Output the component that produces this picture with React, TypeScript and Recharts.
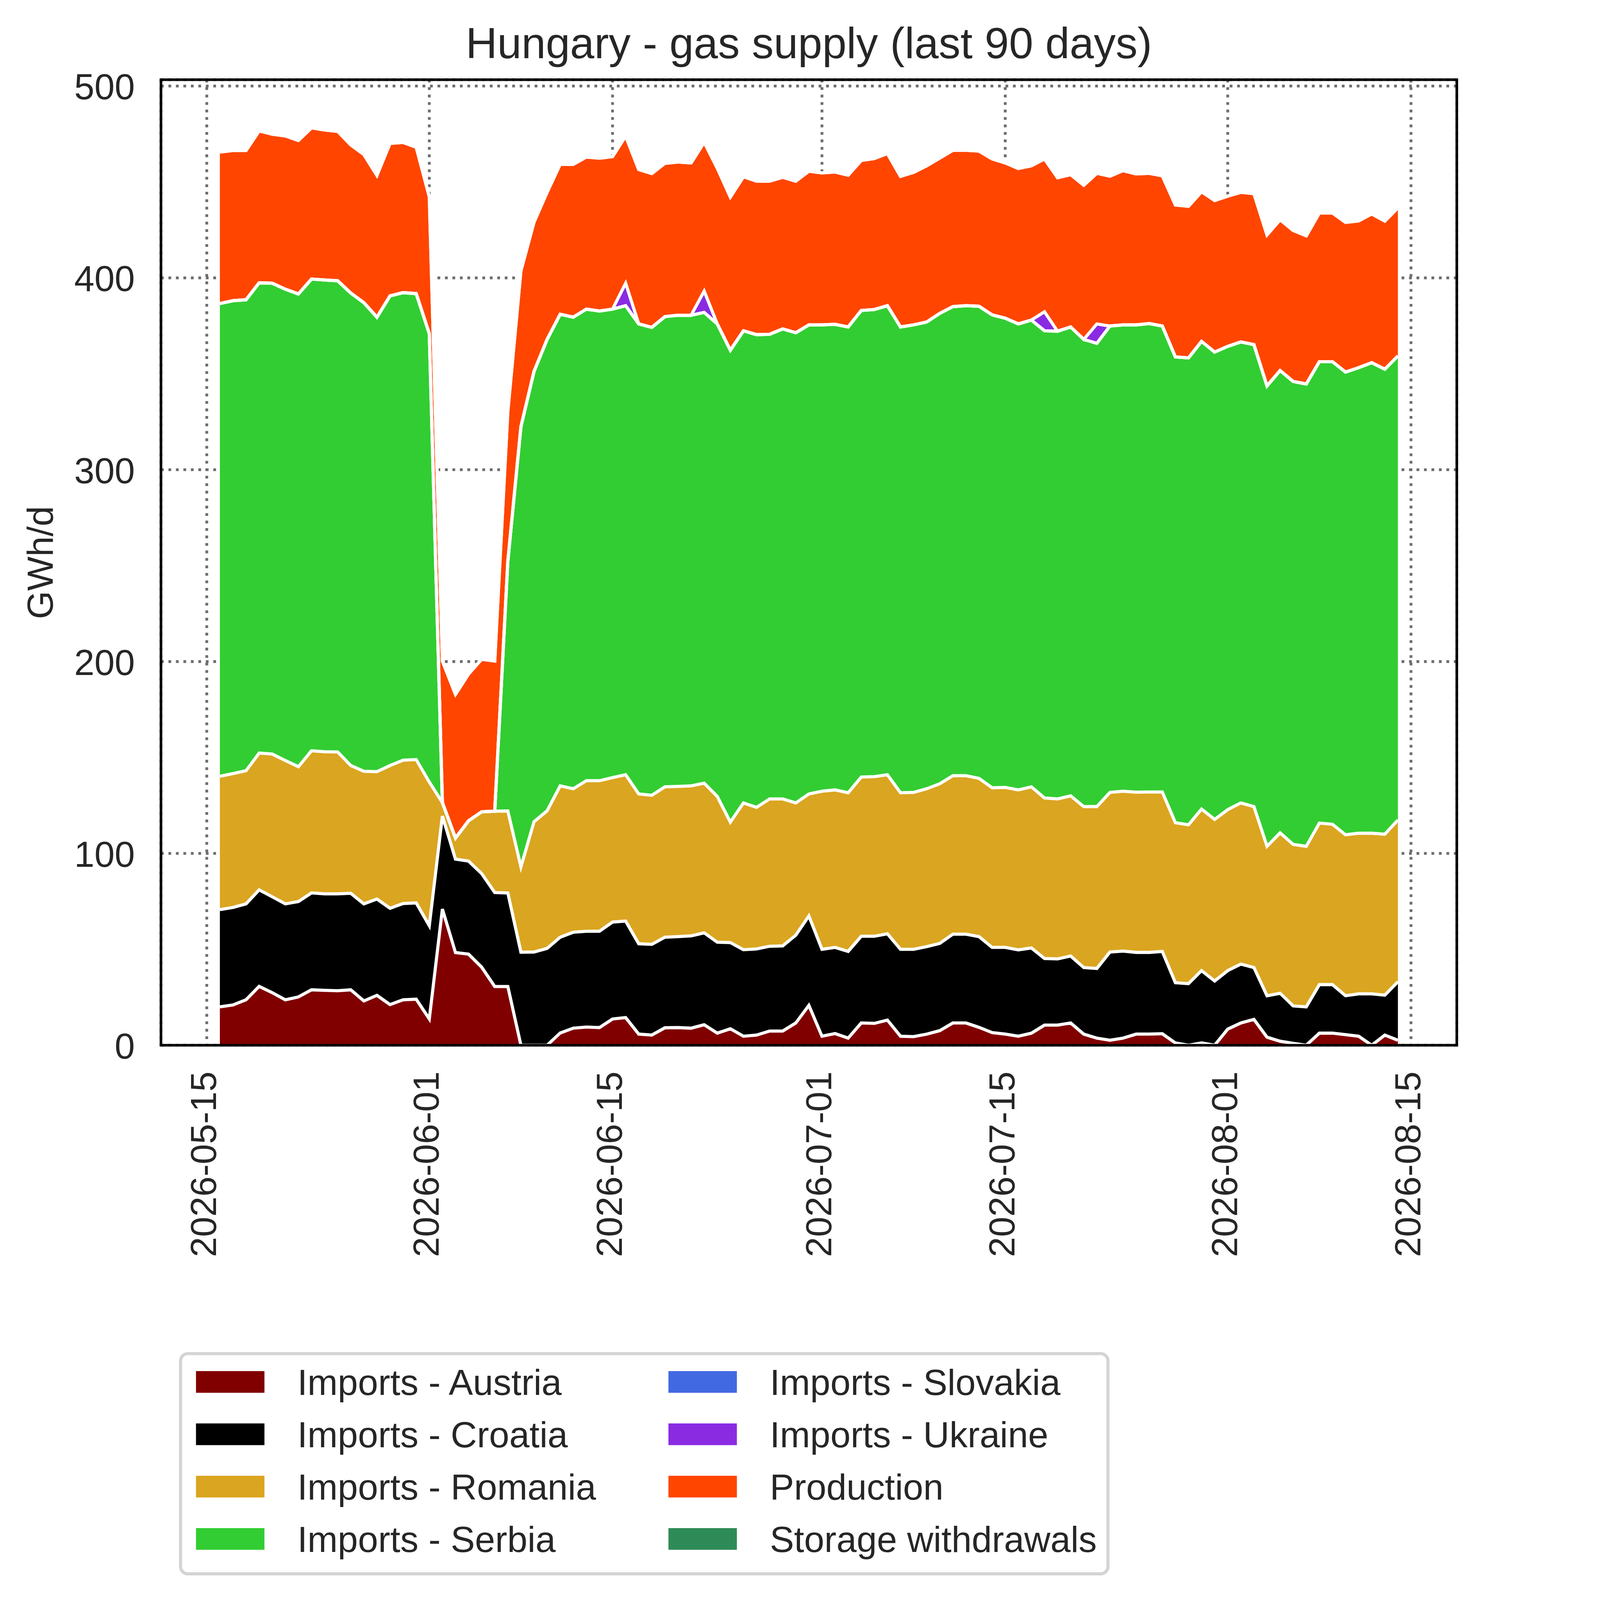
import React from 'react';
import { AreaChart, Area, XAxis, YAxis, CartesianGrid, Legend } from 'recharts';

const FONT = '"Liberation Sans", Arial, Helvetica, sans-serif';
const TEXT = '#262626';

const dates = [
  '2026-05-16', '2026-05-17', '2026-05-18', '2026-05-19', '2026-05-20', '2026-05-21', '2026-05-22', '2026-05-23',
  '2026-05-24', '2026-05-25', '2026-05-26', '2026-05-27', '2026-05-28', '2026-05-29', '2026-05-30', '2026-05-31',
  '2026-06-01', '2026-06-02', '2026-06-03', '2026-06-04', '2026-06-05', '2026-06-06', '2026-06-07', '2026-06-08',
  '2026-06-09', '2026-06-10', '2026-06-11', '2026-06-12', '2026-06-13', '2026-06-14', '2026-06-15', '2026-06-16',
  '2026-06-17', '2026-06-18', '2026-06-19', '2026-06-20', '2026-06-21', '2026-06-22', '2026-06-23', '2026-06-24',
  '2026-06-25', '2026-06-26', '2026-06-27', '2026-06-28', '2026-06-29', '2026-06-30', '2026-07-01', '2026-07-02',
  '2026-07-03', '2026-07-04', '2026-07-05', '2026-07-06', '2026-07-07', '2026-07-08', '2026-07-09', '2026-07-10',
  '2026-07-11', '2026-07-12', '2026-07-13', '2026-07-14', '2026-07-15', '2026-07-16', '2026-07-17', '2026-07-18',
  '2026-07-19', '2026-07-20', '2026-07-21', '2026-07-22', '2026-07-23', '2026-07-24', '2026-07-25', '2026-07-26',
  '2026-07-27', '2026-07-28', '2026-07-29', '2026-07-30', '2026-07-31', '2026-08-01', '2026-08-02', '2026-08-03',
  '2026-08-04', '2026-08-05', '2026-08-06', '2026-08-07', '2026-08-08', '2026-08-09', '2026-08-10', '2026-08-11',
  '2026-08-12', '2026-08-13', '2026-08-14',
];

const austria = [
  20.0, 21.0, 23.7, 30.7, 27.4, 23.7, 25.2, 28.9, 28.6, 28.4,
  28.9, 23.1, 26.0, 21.2, 23.7, 24.0, 13.7, 71.0, 48.3, 47.5,
  40.7, 30.6, 30.6, 0, 0, 0, 6.4, 8.9, 9.5, 9.2,
  13.7, 14.4, 5.8, 5.3, 9.1, 9.2, 8.9, 10.7, 6.3, 8.6,
  4.7, 5.3, 7.4, 7.4, 11.6, 20.8, 4.7, 6.1, 3.7, 11.6,
  11.4, 13.1, 4.7, 4.5, 5.8, 7.6, 11.6, 11.6, 9.3, 6.6,
  5.8, 4.7, 6.3, 10.5, 10.5, 11.6, 5.8, 3.7, 2.6, 3.7,
  5.8, 5.8, 6.0, 1.2, 0, 1.2, 0, 8.4, 11.6, 13.5,
  4.2, 2.1, 1.0, 0, 6.3, 6.3, 5.5, 4.7, 0, 5.3,
  2.6,
];

const croatia = [
  50.7, 50.8, 50.0, 50.3, 50.0, 50.0, 49.7, 50.5, 50.3, 50.5,
  50.3, 50.6, 50.2, 50.2, 50.2, 50.2, 48.6, 48.5, 48.7, 48.5,
  48.8, 49.0, 48.8, 48.5, 48.6, 50.5, 49.9, 50.0, 49.9, 50.2,
  50.5, 50.3, 47.1, 47.3, 47.2, 47.4, 48.1, 47.9, 47.4, 44.9,
  45.1, 44.9, 44.2, 44.4, 45.8, 46.6, 45.3, 44.9, 45.2, 45.2,
  45.4, 45.0, 45.3, 45.5, 45.6, 45.5, 46.3, 46.3, 47.3, 44.4,
  45.2, 45.0, 44.4, 34.7, 34.5, 34.9, 34.7, 36.3, 46.0, 45.4,
  42.6, 42.6, 42.9, 31.4, 32.1, 37.7, 33.5, 30.5, 30.7, 27.0,
  21.6, 25.0, 19.5, 20.0, 25.3, 25.3, 20.3, 22.1, 26.8, 20.8,
  30.5,
];

const romania = [
  69.5, 69.8, 69.4, 71.3, 74.4, 74.7, 70.3, 74.1, 74.1, 74.0,
  66.6, 69.1, 66.4, 74.4, 74.7, 74.7, 74.9, 7.0, 11.0, 21.0,
  32.2, 42.4, 42.7, 44.5, 67.9, 71.7, 78.9, 74.8, 78.5, 78.5,
  75.3, 76.3, 78.1, 77.7, 78.4, 78.3, 78.2, 78.0, 76.0, 62.8,
  76.5, 73.8, 76.8, 76.6, 68.9, 63.6, 82.4, 82.1, 82.7, 83.0,
  83.2, 82.9, 81.6, 81.8, 82.3, 83.2, 82.6, 82.6, 82.5, 83.2,
  83.4, 83.4, 84.0, 83.7, 83.4, 83.5, 83.9, 84.4, 83.2, 83.3,
  83.5, 83.6, 83.1, 83.4, 82.8, 84.2, 84.2, 83.9, 84.0, 83.9,
  77.9, 83.6, 84.2, 83.7, 84.2, 83.6, 83.9, 83.7, 83.7, 83.9,
  84.3,
];

const serbia = [
  246.4, 246.5, 245.5, 245.1, 245.4, 245.7, 246.4, 245.9, 245.9, 245.6,
  246.3, 244.3, 236.9, 244.8, 243.7, 242.9, 233.7, 0, 0, 0,
  0, 0, 130.2, 229.4, 234.7, 245.7, 245.8, 245.8, 245.8, 244.8,
  244.2, 244.5, 245.0, 243.9, 245.1, 245.6, 245.3, 245.4, 246.3, 246.0,
  246.1, 246.4, 242.2, 245.0, 245.1, 244.5, 243.1, 242.7, 242.8, 243.2,
  243.5, 244.5, 242.8, 243.7, 243.3, 245.2, 244.5, 245.0, 246.1, 246.5,
  244.6, 242.9, 243.3, 243.5, 243.8, 244.4, 243.5, 241.5, 243.1, 243.1,
  243.6, 244.2, 242.9, 242.8, 243.4, 243.8, 243.6, 241.5, 240.3, 240.8,
  240.0, 241.0, 241.3, 241.0, 240.5, 241.1, 241.2, 242.7, 245.3, 242.4,
  241.9,
];

const slovakia = [
  0, 0, 0, 0, 0, 0, 0, 0, 0, 0,
  0, 0, 0, 0, 0, 0, 0, 0, 0, 0,
  0, 0, 0, 0, 0, 0, 0, 0, 0, 0,
  0, 0, 0, 0, 0, 0, 0, 0, 0, 0,
  0, 0, 0, 0, 0, 0, 0, 0, 0, 0,
  0, 0, 0, 0, 0, 0, 0, 0, 0, 0,
  0, 0, 0, 0, 0, 0, 0, 0, 0, 0,
  0, 0, 0, 0, 0, 0, 0, 0, 0, 0,
  0, 0, 0, 0, 0, 0, 0, 0, 0, 0,
  0,
];

const ukraine = [
  0, 0, 0, 0, 0, 0, 0, 0, 0, 0,
  0, 0, 0, 0, 0, 0, 0, 0, 0, 0,
  0, 0, 0, 0, 0, 0, 0, 0, 0, 0,
  0, 11.7, 0, 0, 0, 0, 0, 11.1, 0, 0,
  0, 0, 0, 0, 0, 0, 0, 0, 0, 0,
  0, 0, 0, 0, 0, 0, 0, 0, 0, 0,
  0, 0, 0, 9.9, 0, 0, 0, 10.1, 0, 0,
  0, 0, 0, 0, 0, 0, 0, 0, 0, 0,
  0, 0, 0, 0, 0, 0, 0, 0, 0, 0,
  0,
];

const production = [
  79.0, 78.3, 77.8, 79.2, 77.7, 79.9, 80.0, 78.8, 78.2, 77.9,
  77.2, 77.2, 73.9, 79.5, 78.3, 76.3, 71.4, 73.8, 74.9, 76.5,
  79.5, 78.3, 78.1, 81.3, 77.8, 76.7, 78.2, 79.7, 79.3, 79.7,
  79.5, 76.7, 80.5, 80.2, 79.9, 79.9, 79.4, 77.6, 81.2, 79.8,
  80.3, 80.0, 79.8, 79.0, 79.0, 80.1, 79.2, 79.4, 79.1, 78.2,
  78.7, 79.3, 78.5, 79.5, 81.4, 80.9, 81.5, 81.0, 80.9, 81.3,
  80.9, 81.0, 80.4, 79.7, 80.0, 79.4, 80.4, 78.5, 78.1, 80.4,
  78.7, 78.3, 78.3, 79.2, 79.0, 78.0, 79.0, 78.3, 78.0, 78.7,
  78.7, 78.6, 78.7, 77.2, 77.5, 77.5, 78.0, 76.5, 77.5, 77.2,
  77.2,
];

const storage = [
  0, 0, 0, 0, 0, 0, 0, 0, 0, 0,
  0, 0, 0, 0, 0, 0, 0, 0, 0, 0,
  0, 0, 0, 0, 0, 0, 0, 0, 0, 0,
  0, 0, 0, 0, 0, 0, 0, 0, 0, 0,
  0, 0, 0, 0, 0, 0, 0, 0, 0, 0,
  0, 0, 0, 0, 0, 0, 0, 0, 0, 0,
  0, 0, 0, 0, 0, 0, 0, 0, 0, 0,
  0, 0, 0, 0, 0, 0, 0, 0, 0, 0,
  0, 0, 0, 0, 0, 0, 0, 0, 0, 0,
  0,
];

const tickDates = ['2026-05-15', '2026-06-01', '2026-06-15', '2026-07-01', '2026-07-15', '2026-08-01', '2026-08-15'];
const yTicks = [0, 100, 200, 300, 400, 500];

const seriesNames = [
  'Imports - Austria', 'Imports - Croatia', 'Imports - Romania', 'Imports - Serbia',
  'Imports - Slovakia', 'Imports - Ukraine', 'Production', 'Storage withdrawals',
];
const seriesKeys = ['austria', 'croatia', 'romania', 'serbia', 'slovakia', 'ukraine', 'production', 'storage'];
const seriesColors = ['#800000', '#000000', '#DAA520', '#32CD32', '#4169E1', '#8A2BE2', '#FF4500', '#2E8B57'];
const seriesData = [austria, croatia, romania, serbia, slovakia, ukraine, production, storage];

const DAY_MS = 86400000;
const ORIGIN = Date.parse(tickDates[0] + 'T00:00:00Z');
const toDay = (d: string) => Math.round((Date.parse(d + 'T00:00:00Z') - ORIGIN) / DAY_MS);

const rows = dates.map((d, i) => {
  const r: Record<string, number | string> = { t: toDay(d), date: d };
  seriesKeys.forEach((k, j) => { r[k] = seriesData[j][i]; });
  return r;
});

const xTicks = tickDates.map(toDay);
const xFirst = toDay(dates[0]);
const xLast = toDay(dates[dates.length - 1]);
const xPad = (xLast - xFirst) * 0.05;
const xDomain: [number, number] = [xFirst - xPad, xLast + xPad];
const yDomain: [number, number] = [0, 503.3];

const W = 5675;
const H = 6123;
const PLOT_LEFT = 616;
const PLOT_RIGHT = 5575;
const PLOT_TOP = 305;
const PLOT_BOTTOM = 4000;
const X_AXIS_H = 1000;
const Y_AXIS_W = 500;
const SPINE = 10;

function XTick(props: any) {
  const { x, payload } = props;
  const idx = xTicks.indexOf(payload.value);
  const label = idx >= 0 ? tickDates[idx] : '';
  const y0 = PLOT_BOTTOM + 100;
  return (
    <text x={x} y={y0 + 36} transform={`rotate(-90, ${x}, ${y0})`} textAnchor="end"
      fontSize={139} fontFamily={FONT} fill={TEXT}>{label}</text>
  );
}

function YTick(props: any) {
  const { y, payload } = props;
  return (
    <text x={516} y={y + 51} textAnchor="end" fontSize={139} fontFamily={FONT} fill={TEXT}>{payload.value}</text>
  );
}

const LEG_X = 680;
const LEG_Y = 5168;

function LegendBox() {
  return (
    <svg width={3580} height={870} style={{ display: 'block', overflow: 'visible' }}>
      <rect x={11} y={12} width={3549} height={843} rx={28} ry={28} fill="#ffffff" stroke="#d4d4d4" strokeWidth={12} />
      {seriesNames.map((name, i) => {
        const col = Math.floor(i / 4);
        const row = i % 4;
        const sx = (col ? 2558 : 750) - LEG_X;
        const sy = 5247 + row * 200.3 - LEG_Y;
        const tx = (col ? 2946 : 1138) - LEG_X;
        const ty = 5337.5 + row * 200.3 - LEG_Y;
        return (
          <g key={name}>
            <rect x={sx} y={sy} width={262} height={83} fill={seriesColors[i]} />
            <text x={tx} y={ty} fontSize={139} fontFamily={FONT} fill={TEXT}>{name}</text>
          </g>
        );
      })}
    </svg>
  );
}

function fitScale() {
  if (typeof window === 'undefined') return 1;
  const sw = window.innerWidth / W;
  const sh = window.innerHeight / H;
  const s = Math.min(sw, sh);
  return s > 0 && isFinite(s) ? s : 1;
}

export default function App() {
  const [scale, setScale] = React.useState(fitScale());
  React.useLayoutEffect(() => {
    document.documentElement.style.overflow = 'hidden';
    document.body.style.margin = '0';
    document.body.style.overflow = 'hidden';
    const on = () => setScale(fitScale());
    on();
    window.addEventListener('resize', on);
    return () => window.removeEventListener('resize', on);
  }, []);

  return (
    <div style={{
      position: 'absolute', left: 0, top: 0, width: W, height: H, background: '#ffffff',
      transform: `scale(${scale})`, transformOrigin: '0 0', overflow: 'hidden',
    }}>
      <AreaChart
        width={W}
        height={H}
        data={rows}
        margin={{
          top: PLOT_TOP,
          right: W - PLOT_RIGHT,
          bottom: H - PLOT_BOTTOM - X_AXIS_H,
          left: PLOT_LEFT - Y_AXIS_W,
        }}
      >
        <CartesianGrid stroke="#6e6e6e" strokeWidth={10.6} strokeDasharray="10.6 18" horizontal vertical />
        {seriesKeys.map((k, i) => (
          <Area
            key={'fill-' + k}
            type="linear"
            dataKey={k}
            name={seriesNames[i]}
            stackId="fill"
            fill={seriesColors[i]}
            fillOpacity={1}
            stroke="none"
            dot={false}
            activeDot={false}
            isAnimationActive={false}
          />
        ))}
        {seriesKeys.map((k, i) => (
          <Area
            key={'edge-' + k}
            type="linear"
            dataKey={k}
            name={seriesNames[i] + ' edge'}
            stackId="edge"
            fill="none"
            fillOpacity={0}
            stroke="#ffffff"
            strokeWidth={12}
            strokeLinejoin="miter"
            strokeMiterlimit={4}
            dot={false}
            activeDot={false}
            legendType="none"
            isAnimationActive={false}
          />
        ))}
        <XAxis
          dataKey="t"
          type="number"
          domain={xDomain}
          ticks={xTicks}
          interval={0}
          allowDataOverflow
          height={X_AXIS_H}
          tickLine={false}
          axisLine={false}
          tick={<XTick />}
        />
        <YAxis
          type="number"
          domain={yDomain}
          ticks={yTicks}
          interval={0}
          allowDataOverflow
          width={Y_AXIS_W}
          tickLine={false}
          axisLine={false}
          tick={<YTick />}
        />
        <Legend
          layout="vertical"
          align="center"
          verticalAlign="middle"
          content={<LegendBox />}
          wrapperStyle={{ position: 'absolute', left: LEG_X, top: LEG_Y, width: 3580, height: 870, margin: 0, padding: 0 }}
        />
      </AreaChart>
      <div style={{
        position: 'absolute',
        left: PLOT_LEFT - SPINE / 2,
        top: PLOT_TOP - SPINE / 2,
        width: PLOT_RIGHT - PLOT_LEFT + SPINE,
        height: PLOT_BOTTOM - PLOT_TOP + SPINE,
        border: `${SPINE}px solid #000000`,
        boxSizing: 'border-box',
        pointerEvents: 'none',
      }} />
      <svg width={W} height={H} style={{ position: 'absolute', left: 0, top: 0, pointerEvents: 'none' }}>
        <text x={(PLOT_LEFT + PLOT_RIGHT) / 2} y={222} textAnchor="middle"
          fontSize={167} fontFamily={FONT} fill={TEXT}>Hungary - gas supply (last 90 days)</text>
        <text x={202} y={2153} transform="rotate(-90, 202, 2153)" textAnchor="middle"
          fontSize={139} fontFamily={FONT} fill={TEXT}>GWh/d</text>
      </svg>
    </div>
  );
}
